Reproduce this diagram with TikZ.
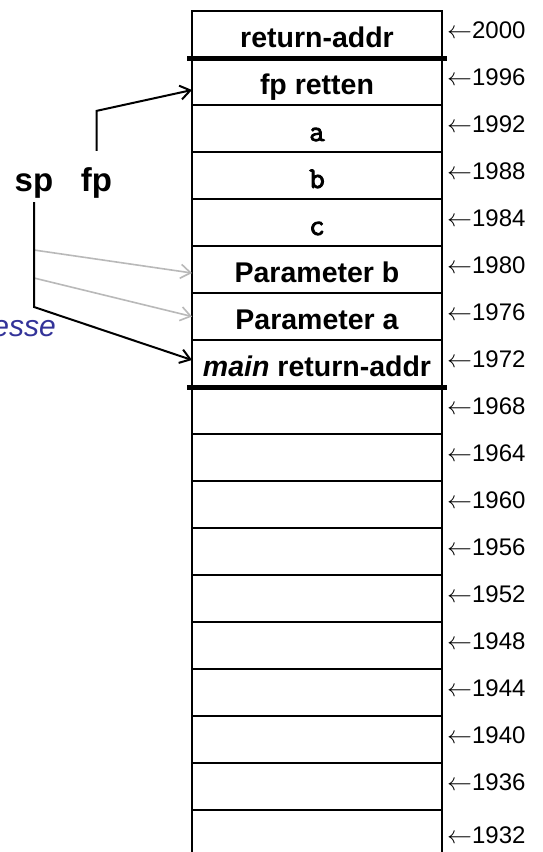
\documentclass[tikz,border=0pt]{standalone}
\usepackage{fontspec}
\setmainfont{Liberation Sans}
\newfontfamily\codefont[FakeBold=3]{Latin Modern Mono}
\usetikzlibrary{arrows.meta}
\definecolor{grayarrow}{RGB}{185,185,185}
\definecolor{bluetext}{RGB}{51,51,153}
\begin{document}
\begin{tikzpicture}[x=1pt,y=-1pt,
  cell/.style={draw, line width=1.2pt, minimum width=250pt, minimum height=47pt,
    text height=25pt, text depth=0pt, inner sep=0pt, outer sep=0pt,
    font=\fontsize{28.5}{30}\selectfont\bfseries},
  monocell/.style={cell, font=\fontsize{30}{32}\selectfont\codefont},
  addr/.style={anchor=base west, inner sep=0pt, font=\fontsize{24}{26}\selectfont},
  reg/.style={anchor=base, inner sep=0pt, font=\fontsize{33}{35}\selectfont\bfseries},
  ptr/.style={line width=2pt, -{Straight Barb[length=10pt,width=14pt]}},
  gptr/.style={line width=1.6pt, draw=grayarrow, -{Straight Barb[length=10pt,width=14pt]}},
  sep/.style={line width=5pt}]
\clip (0,0) rectangle (542,852);
\fill[white] (0,0) rectangle (542,852);
% stack cells
\node[cell] (r0) at (317,34.5) {return-addr};
\node[cell] (r1) at (317,81.5) {fp retten};
\node[monocell] (r2) at (317,128.5) {a};
\node[monocell] (r3) at (317,175.5) {b};
\node[monocell] (r4) at (317,222.5) {c};
\node[cell] (r5) at (317,269.5) {Parameter b};
\node[cell] (r6) at (317,316.5) {Parameter a};
\node[cell] (r7) at (317,363.5) {\textit{main} return-addr};
\foreach \i in {8,...,17} {
  \node[cell] (r\i) at (317,34.5+47*\i) {};
}
% thick separators
\draw[sep] ([xshift=-5pt]r0.south west) -- ([xshift=5pt]r0.south east);
\draw[sep] ([xshift=-5pt]r7.south west) -- ([xshift=5pt]r7.south east);
% address labels
\foreach \i in {0,...,16} {
  \pgfmathtruncatemacro\adr{2000-4*\i}
  \node[addr] (l\i) at (447,38+47*\i) {$\leftarrow$\adr};
}
\node[addr] (l17) at (447,843) {$\leftarrow$1932};
% registers
\node[reg] (sp) at (34,191) {sp};
\node[reg] (fp) at (96.5,191) {fp};
\node[anchor=base east, inner sep=0pt, text=bluetext,
  font=\fontsize{30}{32}\selectfont\itshape] (adr) at (56,336) {esse};
% pointers
\draw[ptr] (fp.north) ++(0,-16) -- ++(0,-40) -- ([yshift=-8.5pt]r1.west);
\coordinate (spK) at (34,307);
\coordinate (spA) at (34,250);
\coordinate (spB) at (34,278);
\draw[gptr] (spA) -- ([yshift=-3.5pt]r5.west);
\draw[gptr] (spB) -- (r6.west);
\draw[ptr] (sp.south) ++(0,4) -- (spK) -- ([yshift=3.5pt]r7.west);
\end{tikzpicture}
\end{document}
